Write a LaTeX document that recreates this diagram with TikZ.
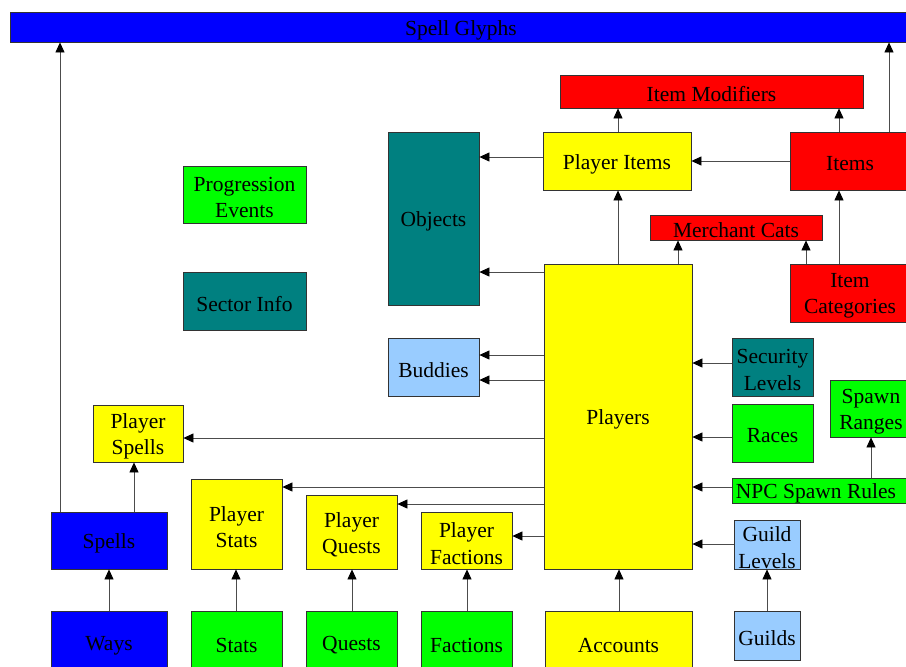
\documentclass[tikz,border=0pt]{standalone}
\usepackage{fontspec}
\setmainfont{Liberation Serif}
\usetikzlibrary{arrows.meta}
\definecolor{cblue}{HTML}{0000FF}
\definecolor{cred}{HTML}{FF0000}
\definecolor{cyellow}{HTML}{FFFF00}
\definecolor{cgreen}{HTML}{00FF00}
\definecolor{cteal}{HTML}{008080}
\definecolor{clight}{HTML}{99CCFF}
\definecolor{cborder}{HTML}{333333}
\newcommand{\mkbox}[7]{%
  \node[box,fill=#2,minimum width=#5pt-#3pt,minimum height=#6pt-#4pt] (#1) at ({(#3+#5)/2},{(#4+#6)/2}) {};
  \node[lbl] (#1-t) at ([yshift=-3pt]#1.center) {#7};}
\begin{document}
\begin{tikzpicture}[x=1pt,y=-1pt,
  box/.style={draw=cborder, line width=0.8pt, inner sep=0pt},
  lbl/.style={inner sep=0pt, align=center, font=\fontsize{21.5}{26.5}\selectfont},
  arr/.style={draw=black!70, line width=0.8pt, -{Triangle[length=10pt,width=9pt,color=black]}}]
\useasboundingbox (0,0) rectangle (906,667);
\clip (0,0) rectangle (906,667);

\mkbox{glyphs}{cblue}{10}{12}{912}{42}{Spell Glyphs}
\mkbox{imod}{cred}{560}{75}{863}{108}{Item Modifiers}
\mkbox{pitems}{cyellow}{543}{132}{691}{190}{Player Items}
\mkbox{items}{cred}{790}{132}{910}{190}{Items}
\mkbox{objects}{cteal}{388}{132}{479}{305}{Objects}
\mkbox{mcats}{cred}{650}{215}{822}{240}{Merchant Cats}
\mkbox{icat}{cred}{790}{264}{910}{322}{Item\\Categories}
\mkbox{players}{cyellow}{544}{264}{692}{569}{Players}
\mkbox{progress}{cgreen}{183}{166}{306}{223}{Progression\\Events}
\mkbox{sector}{cteal}{183}{272}{306}{330}{Sector Info}
\mkbox{buddies}{clight}{388}{338}{479}{396}{Buddies}
\mkbox{seclev}{cteal}{732}{338}{813}{396}{Security\\Levels}
\mkbox{races}{cgreen}{732}{404}{813}{462}{Races}
\mkbox{spawnr}{cgreen}{830}{380}{912}{437}{Spawn\\Ranges}
\node[box,fill=cgreen,minimum width=180pt,minimum height=25pt,anchor=north west] (npc) at (732,478) {};
\node[lbl] (npc-t) at ([yshift=-3pt]816,490.5) {NPC Spawn Rules};
\mkbox{pspells}{cyellow}{93}{405}{183}{462}{Player\\Spells}
\mkbox{spells}{cblue}{51}{512}{167}{569}{Spells}
\mkbox{ways}{cblue}{51}{611}{167}{674}{Ways}
\mkbox{pstats}{cyellow}{191}{479}{282}{569}{Player\\Stats}
\mkbox{pquests}{cyellow}{306}{495}{397}{569}{Player\\Quests}
\mkbox{pfactions}{cyellow}{421}{512}{512}{569}{Player\\Factions}
\mkbox{stats}{cgreen}{191}{611}{282}{674}{Stats}
\mkbox{quests}{cgreen}{306}{611}{397}{674}{Quests}
\mkbox{factions}{cgreen}{421}{611}{512}{674}{Factions}
\mkbox{accounts}{cyellow}{545}{611}{692}{674}{Accounts}
\mkbox{glevels}{clight}{734}{520}{800}{569}{Guild\\Levels}
\mkbox{guilds}{clight}{734}{611}{800}{660}{Guilds}

% vertical connectors
\draw[arr] (spells.north -| 60,0) -- (glyphs.south -| 60,0);
\draw[arr] (items.north -| 889,0) -- (glyphs.south -| 889,0);
\draw[arr] (pitems.north -| 618,0) -- (imod.south -| 618,0);
\draw[arr] (items.north -| 839,0) -- (imod.south -| 839,0);
\draw[arr] (players.north -| 618,0) -- (pitems.south -| 618,0);
\draw[arr] (players.north -| 678,0) -- (mcats.south -| 678,0);
\draw[arr] (icat.north -| 806,0) -- (mcats.south -| 806,0);
\draw[arr] (icat.north -| 839,0) -- (items.south -| 839,0);
\draw[arr] (npc.north -| 871,0) -- (spawnr.south -| 871,0);
\draw[arr] (guilds.north -| 767,0) -- (glevels.south -| 767,0);
\draw[arr] (accounts.north -| 619,0) -- (players.south -| 619,0);
\draw[arr] (spells.north -| 134,0) -- (pspells.south -| 134,0);
\draw[arr] (ways.north -| 109,0) -- (spells.south -| 109,0);
\draw[arr] (stats.north -| 236,0) -- (pstats.south -| 236,0);
\draw[arr] (quests.north -| 352,0) -- (pquests.south -| 352,0);
\draw[arr] (factions.north -| 467,0) -- (pfactions.south -| 467,0);

% horizontal connectors
\draw[arr] (pitems.west |- 0,157) -- (objects.east |- 0,157);
\draw[arr] (items.west |- 0,161) -- (pitems.east |- 0,161);
\draw[arr] (players.west |- 0,272) -- (objects.east |- 0,272);
\draw[arr] (players.west |- 0,355) -- (buddies.east |- 0,355);
\draw[arr] (players.west |- 0,380) -- (buddies.east |- 0,380);
\draw[arr] (seclev.west |- 0,363) -- (players.east |- 0,363);
\draw[arr] (races.west |- 0,437) -- (players.east |- 0,437);
\draw[arr] (npc.west |- 0,487) -- (players.east |- 0,487);
\draw[arr] (glevels.west |- 0,544) -- (players.east |- 0,544);
\draw[arr] (players.west |- 0,438) -- (pspells.east |- 0,438);
\draw[arr] (players.west |- 0,487) -- (pstats.east |- 0,487);
\draw[arr] (players.west |- 0,504) -- (pquests.east |- 0,504);
\draw[arr] (players.west |- 0,536) -- (pfactions.east |- 0,536);
\end{tikzpicture}
\end{document}
